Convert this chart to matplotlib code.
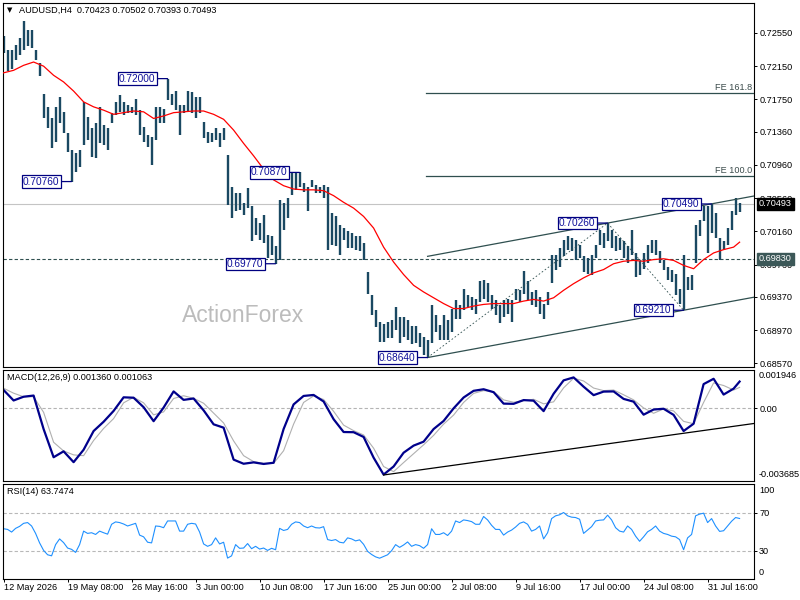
import numpy as np
import matplotlib
matplotlib.use("Agg")
import matplotlib.pyplot as plt

plt.rcParams['font.family'] = ['Liberation Sans', 'DejaVu Sans']

symbol = "AUDUSD,H4"
last_ohlc = [0.70423, 0.70502, 0.70393, 0.70493]

# one bar drawn every two H4 slots, prices in pips (1e-4)
bar_high = [
    7251, 7235, 7235, 7241, 7249, 7269, 7259, 7259, 7235, 7219,
    7181, 7166, 7152, 7166, 7178, 7160, 7134, 7114, 7110, 7114,
    7172, 7154, 7140, 7146, 7166, 7144, 7140, 7158, 7172, 7180,
    7172, 7168, 7166, 7176, 7162, 7142, 7132, 7130, 7166, 7166,
    7164, 7200, 7182, 7185, 7168, 7168, 7185, 7184, 7178, 7178,
    7148, 7136, 7134, 7140, 7134, 7140, 7108, 7070, 7062, 7062,
    7050, 7068, 7046, 7032, 7026, 7036, 7012, 7010, 6998, 7054,
    7050, 7056, 7086, 7086, 7087, 7074, 7070, 7078, 7072, 7070,
    7072, 7070, 7038, 7034, 7024, 7020, 7016, 7014, 7010, 7010,
    7002, 6967, 6939, 6921, 6907, 6905, 6907, 6909, 6925, 6913,
    6913, 6909, 6902, 6902, 6893, 6889, 6885, 6927, 6915, 6903,
    6915, 6909, 6923, 6933, 6927, 6947, 6939, 6937, 6935, 6956,
    6958, 6954, 6939, 6933, 6927, 6933, 6935, 6933, 6947, 6945,
    6968, 6956, 6943, 6945, 6937, 6929, 6943, 6988, 6988, 6996,
    7006, 7010, 7008, 7006, 7000, 6986, 6984, 6988, 7000, 7018,
    7014, 7026, 7018, 7010, 7008, 7004, 6998, 7018, 6990, 6980,
    6990, 7000, 7006, 7006, 6992, 6982, 6973, 6969, 6965, 6947,
    6988, 6961, 6963, 7024, 7030, 7046, 7046, 7049, 7038, 7008,
    7004, 7020, 7040, 7056, 7050,
]
bar_low = [
    7231, 7209, 7211, 7223, 7229, 7235, 7239, 7237, 7223, 7203,
    7152, 7140, 7116, 7124, 7146, 7134, 7112, 7076, 7088, 7094,
    7120, 7126, 7106, 7104, 7122, 7120, 7114, 7146, 7156, 7160,
    7156, 7158, 7158, 7156, 7132, 7124, 7118, 7096, 7126, 7146,
    7146, 7174, 7168, 7162, 7132, 7158, 7160, 7158, 7152, 7158,
    7128, 7122, 7124, 7126, 7118, 7126, 7048, 7032, 7040, 7042,
    7036, 7044, 7004, 7012, 7006, 7002, 6984, 6988, 6977, 6982,
    7018, 7032, 7060, 7066, 7070, 7064, 7040, 7070, 7062, 7062,
    7056, 6994, 7000, 6998, 6988, 7006, 6996, 6996, 6994, 6992,
    6982, 6941, 6915, 6901, 6883, 6883, 6887, 6887, 6897, 6882,
    6889, 6885, 6880, 6882, 6877, 6867, 6864, 6882, 6895, 6885,
    6885, 6885, 6895, 6911, 6911, 6921, 6925, 6921, 6917, 6931,
    6935, 6931, 6923, 6915, 6906, 6913, 6917, 6907, 6933, 6931,
    6941, 6933, 6927, 6925, 6917, 6910, 6927, 6954, 6970, 6973,
    6986, 6994, 6992, 6982, 6984, 6967, 6965, 6963, 6984, 7000,
    6996, 7004, 6996, 6992, 6994, 6984, 6978, 6988, 6961, 6963,
    6971, 6978, 6990, 6988, 6978, 6970, 6957, 6955, 6939, 6929,
    6921, 6945, 6945, 6978, 7010, 7028, 6990, 7014, 7008, 6982,
    6994, 7000, 7018, 7036, 7039,
]

# red moving average, read every 5 H4 slots (last point on the last bar)
ma_pips = [
    7207, 7210, 7216, 7220, 7215, 7204, 7196, 7185, 7172, 7166,
    7162, 7157, 7159, 7161, 7160, 7152, 7155, 7159, 7160, 7161,
    7161, 7157, 7151, 7138, 7122, 7107, 7091, 7078, 7071, 7067,
    7066, 7066, 7065, 7059, 7051, 7044, 7034, 7020, 6997, 6979,
    6964, 6951, 6943, 6936, 6929, 6923, 6923, 6926, 6928, 6929,
    6929, 6929, 6932, 6934, 6932, 6936, 6945, 6953, 6960, 6966,
    6970, 6977, 6980, 6981, 6980, 6982, 6983, 6981, 6975, 6971,
    6982, 6990, 6994, 6997, 7003,
]

# MACD(12,26,9) in units of 1e-4, same sampling as the MA
macd_main = [
    9.3, 4.0, 5.9, 6.5, -10.5, -24.8, -21.8, -27.3, -21.0, -11.5,
    -6.8, -1.3, 5.6, 5.4, 0.6, -6.5, 0.4, 8.6, 4.3, 5.0,
    -1.0, -8.1, -9.8, -26.0, -28.1, -27.4, -28.2, -27.6, -10.5, 2.0,
    6.3, 6.8, 3.5, -5.5, -12.0, -12.1, -14.5, -25.0, -33.6, -29.5,
    -22.5, -18.9, -16.9, -10.5, -6.4, 0.0, 5.5, 8.9, 9.7, 8.2,
    2.4, 2.3, 4.2, 3.9, -1.4, 7.4, 14.2, 15.7, 11.0, 6.7,
    8.5, 8.6, 4.8, 3.4, -3.2, -0.6, -0.2, -3.3, -11.5, -7.8,
    12.3, 15.0, 7.0, 10.0, 13.6,
]
macd_signal = [
    10.2, 7.7, 5.9, 5.9, -2.0, -17.2, -21.6, -23.6, -24.0, -16.3,
    -10.2, -5.2, 2.8, 5.6, 2.8, -3.3, -1.8, 5.0, 6.4, 5.1,
    2.6, -2.4, -7.4, -16.5, -24.0, -27.0, -27.9, -27.9, -21.5, -8.0,
    3.0, 6.3, 4.5, -1.5, -8.5, -11.3, -13.5, -20.2, -29.5, -32.1,
    -27.5, -23.0, -18.5, -13.7, -8.0, -3.4, 3.0, 7.6, 9.0, 8.5,
    4.3, 3.1, 3.9, 4.6, 2.3, 3.3, 10.4, 15.3, 13.9, 10.3,
    9.0, 9.3, 6.9, 4.3, 0.2, -2.5, -0.3, -1.3, -6.6, -7.8,
    3.0, 12.9, 11.6, 9.3, 10.63,
]
macd_last = [0.001360, 0.001063]
macd_range = [-0.003685, 0.001946]
macd_trend = [(190, -33.8), (375, -7.7)]

# RSI(14), one value per drawn bar
rsi = [
    52.9, 52.2, 49.4, 53.3, 55.4, 58.6, 59.4, 55.8, 48.0, 38.0,
    30.1, 25.5, 24.4, 36.2, 42.2, 38.3, 32.6, 31.2, 28.0, 36.2,
    50.4, 48.0, 48.7, 46.9, 50.4, 48.7, 47.2, 57.6, 60.1, 59.4,
    57.9, 55.8, 57.2, 58.6, 46.2, 44.4, 38.7, 38.0, 55.8, 55.4,
    54.0, 61.1, 61.1, 61.1, 50.4, 50.4, 57.6, 58.6, 57.9, 49.4,
    36.9, 34.4, 36.2, 43.3, 36.9, 38.7, 22.0, 24.4, 36.2, 32.3,
    32.6, 37.3, 31.9, 34.4, 31.5, 32.6, 30.1, 32.3, 30.8, 53.3,
    51.1, 52.2, 57.6, 60.1, 59.4, 55.8, 54.0, 55.8, 54.0, 53.7,
    55.1, 41.5, 40.5, 41.5, 38.7, 38.0, 43.3, 42.2, 40.1, 41.2,
    36.5, 29.1, 25.8, 23.3, 21.9, 23.7, 25.5, 29.8, 36.2, 33.3,
    35.8, 39.0, 34.4, 36.2, 35.1, 32.3, 36.2, 52.9, 46.9, 46.9,
    48.7, 45.8, 50.4, 61.1, 59.4, 62.2, 61.5, 60.4, 57.6, 57.6,
    65.8, 62.2, 56.5, 52.2, 52.2, 46.2, 49.4, 51.5, 54.7, 58.6,
    60.1, 57.6, 50.4, 52.2, 55.8, 42.2, 48.7, 63.6, 66.5, 67.6,
    70.0, 66.5, 65.1, 64.7, 62.9, 48.0, 51.5, 55.1, 61.1, 61.9,
    62.2, 67.2, 62.2, 54.0, 50.4, 49.4, 55.8, 52.2, 45.1, 39.7,
    44.4, 49.7, 52.2, 55.8, 50.4, 48.0, 46.9, 45.1, 44.4, 41.5,
    30.8, 43.3, 46.9, 66.5, 68.3, 69.3, 59.4, 63.6, 55.8, 50.1,
    50.8, 55.8, 60.8, 64.7, 63.7,
]
rsi_last = 63.7474

# swing labels: drawn bar index and price
swing_bar = [17, 41, 68, 74, 106, 151, 170, 177]
swing_price = [0.7076, 0.7200, 0.6977, 0.7087, 0.6864, 0.7026, 0.6921, 0.7049]

support = 0.6983
fe_ratios = [1.0, 1.618]
fe_names = ["FE 100.0", "FE 161.8"]

price_ticks = [0.72550, 0.72150, 0.71750, 0.71360, 0.70960, 0.70560,
               0.70160, 0.69760, 0.69370, 0.68970, 0.68570]
price_range = [0.68526, 0.72911]
time_labels = ["12 May 2026", "19 May 08:00", "26 May 16:00", "3 Jun 00:00",
               "10 Jun 08:00", "17 Jun 16:00", "25 Jun 00:00", "2 Jul 08:00",
               "9 Jul 16:00", "17 Jul 00:00", "24 Jul 08:00", "31 Jul 16:00"]

BAR = '#1a4862'
NAVY = '#000080'
SLATE = '#2f4f4f'
FS = 6.6
W, H = 800, 600


def px_axes(fig, x0, y0, x1, y1):
    return fig.add_axes([x0 / W, 1 - y1 / H, (x1 - x0) / W, (y1 - y0) / H])


def style(ax):
    for s in ax.spines.values():
        s.set_color('black')
        s.set_linewidth(0.8)
    ax.set_xlim(-0.3, 375.2)
    ax.set_xticks([])
    ax.yaxis.tick_right()
    ax.tick_params(axis='y', labelsize=FS, length=2.2, width=0.7, pad=1.5)


def side_label(ax, text, y, va, dy):
    ax.annotate(text, xy=(1, y), xycoords='axes fraction', xytext=(5, dy),
                textcoords='offset pixels', ha='left', va=va, fontsize=FS,
                annotation_clip=False)


def main():
    fig = plt.figure(figsize=(8, 6), dpi=100)
    ax_p = px_axes(fig, 3, 3, 754, 367)
    ax_m = px_axes(fig, 3, 370, 754, 481)
    ax_r = px_axes(fig, 3, 484, 754, 579)
    for ax in (ax_p, ax_m, ax_r):
        style(ax)

    # price panel
    pos = 2 * np.arange(len(bar_high))
    hi = np.array(bar_high) / 1e4
    lo = np.array(bar_low) / 1e4
    ax_p.set_ylim(*price_range)
    ax_p.set_yticks(price_ticks)
    ax_p.set_yticklabels([f"{v:.5f}" for v in price_ticks])

    ax_p.text((243 - 3) / 751, (367 - 316) / 364, "ActionForex", transform=ax_p.transAxes,
              ha='center', va='center', fontsize=16.5, color='#bcbcbc', zorder=0)

    ax_p.axhline(last_ohlc[3], color='#c4c4c4', lw=0.8, zorder=1)
    ax_p.axhline(support, color=SLATE, lw=0.8, ls=(0, (3, 2)), zorder=1)
    ax_p.vlines(pos, lo, hi, color=BAR, lw=1.7, zorder=2)

    ma_pos = list(range(0, 5 * (len(ma_pips) - 1), 5)) + [pos[-1]]
    ax_p.plot(ma_pos, np.array(ma_pips) / 1e4, color='#ff0000', lw=0.9, zorder=3)

    # channel through the swing lows, parallel through the swing high
    b0, b1, b2 = (2 * swing_bar[i] for i in (4, 5, 6))
    p0, p1, p2 = swing_price[4], swing_price[5], swing_price[6]
    slope = (p2 - p0) / (b2 - b0)
    xs = np.array([b0, 380])
    ax_p.plot(xs, p0 + slope * (xs - b0), color=SLATE, lw=0.9, zorder=3)
    upper0 = p1 - slope * (b1 - b0)
    ax_p.plot(xs, upper0 + slope * (xs - b0), color=SLATE, lw=0.9, zorder=3)
    ax_p.plot([b0, b1, b2], [p0, p1, p2], color=SLATE, lw=0.6, ls=(0, (2, 2.5)), zorder=3)

    for r, name in zip(fe_ratios, fe_names):
        level = p2 + r * (p1 - p0)
        ax_p.plot([b0 - 1, 380], [level, level], color=SLATE, lw=0.9, zorder=3)
        ax_p.annotate(name, xy=(1, level), xycoords=('axes fraction', 'data'),
                      xytext=(-2, 1), textcoords='offset pixels', ha='right', va='bottom',
                      fontsize=FS, color='#3b4b4b')

    for k, p in zip(swing_bar, swing_price):
        ax_p.annotate(f"{p:.5f}", xy=(2 * k, p), xytext=(-12, 0), textcoords='offset pixels',
                      ha='right', va='center', fontsize=7.3, color='#10109a', zorder=5,
                      bbox=dict(boxstyle='square,pad=0.12', fc='white', ec=NAVY, lw=0.9),
                      arrowprops=dict(arrowstyle='-', color=NAVY, lw=0.9, shrinkA=0, shrinkB=0))

    for val, bg in ((last_ohlc[3], 'black'), (support, '#3c5858')):
        ax_p.annotate(f"{val:.5f}", xy=(1, val), xycoords=('axes fraction', 'data'),
                      xytext=(5, 0), textcoords='offset pixels', ha='left', va='center',
                      fontsize=FS, color='white', zorder=6, annotation_clip=False,
                      bbox=dict(boxstyle='square,pad=0.18', fc=bg, ec=bg))

    fig.text(7 / W, 1 - 10 / H, "\u25bc", fontsize=5, va='center', family='DejaVu Sans')
    fig.text(19 / W, 1 - 10 / H,
             f"{symbol}  " + " ".join(f"{v:.5f}" for v in last_ohlc),
             fontsize=FS, va='center')

    # MACD panel
    ax_m.set_ylim(*macd_range)
    ax_m.axhline(0, color='#b4b4b4', lw=0.8, ls=(0, (3, 2)))
    ax_m.plot(ma_pos, np.array(macd_signal) / 1e4, color='#b0b0b0', lw=0.8)
    ax_m.plot(ma_pos, np.array(macd_main) / 1e4, color='#00008b', lw=1.6)
    (tx0, tv0), (tx1, tv1) = macd_trend
    ax_m.plot([tx0, tx1], [tv0 / 1e4, tv1 / 1e4], color='black', lw=0.9)
    ax_m.set_yticks([0])
    ax_m.set_yticklabels(["0.00"])
    side_label(ax_m, f"{macd_range[1]:.6f}", 1, 'top', -1)
    side_label(ax_m, f"{macd_range[0]:.6f}", 0, 'bottom', 2)
    fig.text(7 / W, 1 - 378 / H,
             f"MACD(12,26,9) {macd_last[0]:.6f} {macd_last[1]:.6f}",
             fontsize=FS, va='center')

    # RSI panel
    ax_r.set_ylim(0, 100)
    for lv in (30, 70):
        ax_r.axhline(lv, color='#b8b8b8', lw=0.8, ls=(0, (3, 2)))
    ax_r.plot(pos, rsi, color='#1e90ff', lw=0.8)
    ax_r.set_yticks([30, 70])
    ax_r.set_yticklabels(["30", "70"])
    side_label(ax_r, "100", 1, 'top', -2)
    side_label(ax_r, "0", 0, 'bottom', 2)
    fig.text(7 / W, 1 - 492 / H, f"RSI(14) {rsi_last:.4f}", fontsize=FS, va='center')

    ax_r.set_xticks(np.arange(len(time_labels)) * 32)
    ax_r.set_xticklabels(time_labels)
    ax_r.tick_params(axis='x', labelsize=FS, length=2.2, width=0.7, pad=0.6)
    for t in ax_r.get_xticklabels():
        t.set_horizontalalignment('left')

    fig.savefig('out.png', dpi=100)


if __name__ == '__main__':
    main()
